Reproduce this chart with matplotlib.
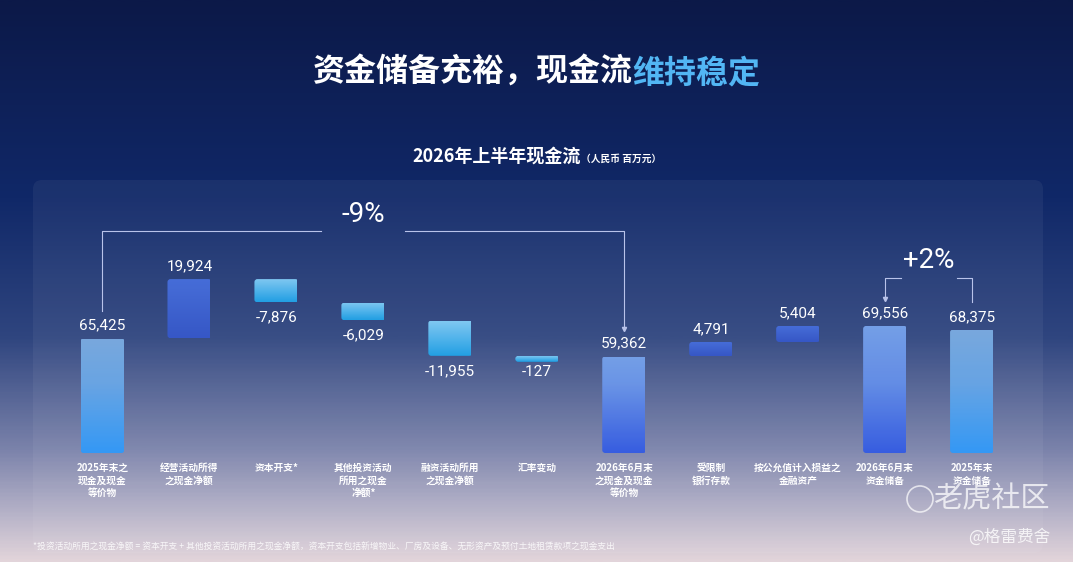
import numpy as np
import matplotlib
matplotlib.use("Agg")
import matplotlib.pyplot as plt
from matplotlib.colors import LinearSegmentedColormap
from matplotlib.patches import FancyBboxPatch, Circle
from matplotlib.transforms import IdentityTransform

plt.rcParams["font.family"] = ["Noto Sans CJK SC", "DejaVu Sans"]

# ---- data ----
categories = [
    "2025年末之\n现金及现金\n等价物",
    "经营活动所得\n之现金净额",
    "资本开支*",
    "其他投资活动\n所用之现金\n净额*",
    "融资活动所用\n之现金净额",
    "汇率变动",
    "2026年6月末\n之现金及现金\n等价物",
    "受限制\n银行存款",
    "按公允值计入损益之\n金融资产",
    "2026年6月末\n资金储备",
    "2025年末\n资金储备",
]
values = [65425, 19924, -7876, -6029, -11955, -127, 59362, 4791, 5404, 69556, 68375]
kinds = ["total", "delta", "delta", "delta", "delta", "delta",
         "total", "delta", "delta", "total", "total"]
# gradient colour (top, bottom) per bar
styles = ["light", "dark", "sky", "sky", "sky", "sky",
          "mid", "dark", "dark", "mid", "light"]
changes = [("-9%", 0, 6), ("+2%", 10, 9)]   # label, from bar, to bar (arrow)

title_white = "资金储备充裕，现金流"
title_blue = "维持稳定"
subtitle = "2026年上半年现金流"
unit = "（人民币 百万元）"
footnote = ("*投资活动所用之现金净额 = 资本开支 + 其他投资活动所用之现金净额，"
            "资本开支包括新增物业、厂房及设备、无形资产及预付土地租赁款项之现金支出")

COLORS = {
    "light": ("#72a4dc", "#2a93f5"),
    "dark": ("#3d66d6", "#2c4fc4"),
    "sky": ("#7cc6f2", "#189be2"),
    "mid": ("#6d9ae6", "#2d55df"),
}

W, H = 1073, 562
fig = plt.figure(figsize=(W / 100, H / 100), dpi=100)

# ---- background gradient ----
bg = fig.add_axes([0, 0, 1, 1], zorder=-10)
bg_cmap = LinearSegmentedColormap.from_list(
    "bg", [(0.0, "#0c1948"), (0.35, "#102868"), (0.6, "#2f457f"),
           (0.8, "#7a82aa"), (0.92, "#b8b4c9"), (1.0, "#e2d4da")])
grad = np.linspace(0, 1, 400).reshape(-1, 1)
bg.imshow(grad, cmap=bg_cmap, aspect="auto", extent=(0, 1, 1, 0))
bg.set_xlim(0, 1)
bg.set_ylim(1, 0)
bg.axis("off")

# panel
panel = FancyBboxPatch((33, H - 553), 1010, 373,
                       boxstyle="round,pad=0,rounding_size=9",
                       transform=IdentityTransform(), fc="white", alpha=0.05, lw=0)
fig.patches.append(panel)

# ---- main axes with a compressed lower range ----
BRK, K = 50000, 2.15


def fwd(v):
    v = np.asarray(v, float)
    return np.where(v < BRK, v, BRK + (v - BRK) * K)


def inv(t):
    t = np.asarray(t, float)
    return np.where(t < BRK, t, BRK + (t - BRK) / K)


YMAX = 112000
ax = fig.add_axes([59 / W, (H - 453) / H, 956.5 / W, 253 / H])
ax.set_yscale("function", functions=(fwd, inv))
ax.set_xlim(-0.5, len(values) - 0.5)
ax.set_ylim(0, YMAX)
ax.axis("off")

# waterfall extents
lows, highs = [], []
running = 0
for v, k in zip(values, kinds):
    if k == "total":
        lo, hi = 0, v
        running = v
    else:
        lo, hi = sorted([running, running + v])
        running += v
    lows.append(lo)
    highs.append(hi)

x = np.arange(len(values))
bars = ax.bar(x, np.array(highs) - np.array(lows), bottom=lows, width=0.505,
              color="none", lw=0)

MIN_PX = 6
for i, b in enumerate(bars):
    ext = b.get_window_extent()
    x0, y0, x1, y1 = ext.x0, ext.y0, ext.x1, ext.y1
    if y1 - y0 < MIN_PX:
        y0 = y1 - MIN_PX
    top_c, bot_c = COLORS[styles[i]]
    cm = LinearSegmentedColormap.from_list("b%d" % i, [bot_c, top_c])
    lo_d = ax.transData.inverted().transform((x0, y0))[1]
    im = ax.imshow(np.linspace(0, 1, 128).reshape(-1, 1), cmap=cm, aspect="auto",
                   origin="lower", extent=(i - 0.2525, i + 0.2525, lo_d, highs[i]),
                   zorder=2)
    clip = FancyBboxPatch((x0, y0), x1 - x0, y1 - y0,
                          boxstyle="round,pad=0,rounding_size=3",
                          transform=IdentityTransform(), fc="none", lw=0)
    im.set_clip_path(clip)

ax.set_xlim(-0.5, len(values) - 0.5)
ax.set_ylim(0, YMAX)

# value labels
for i, v in enumerate(values):
    if kinds[i] == "delta" and v < 0:
        ax.annotate(f"{v:,}", (i, lows[i]), xytext=(0, -6), textcoords="offset points",
                    ha="center", va="top", color="white", fontsize=11, family="Roboto")
    else:
        ax.annotate(f"{v:,}", (i, highs[i]), xytext=(0, 4), textcoords="offset points",
                    ha="center", va="bottom", color="white", fontsize=11, family="Roboto")

# category labels
for i, c in enumerate(categories):
    ax.annotate(c, (i, 0), xytext=(0, -7), textcoords="offset points", ha="center",
                va="top", color="white", fontsize=7, fontweight="bold", linespacing=1.35)

# change brackets (drawn in pixel space from the bar positions)
LC = "#b9c3ea"
gaps = {"-9%": 42, "+2%": 28}
for label, a, b in changes:
    xa = ax.transData.transform((a, highs[a]))
    xb = ax.transData.transform((b, highs[b]))
    top = max(ax.transData.transform((j, highs[j]))[1] for j in range(min(a, b), max(a, b) + 1))
    level = top + 48
    xm = (xa[0] + xb[0]) / 2
    g = gaps[label]
    left, right = sorted([xa, xb], key=lambda p: p[0])
    kw = dict(color=LC, lw=0.8, transform=IdentityTransform())
    fig.add_artist(plt.Line2D([left[0], left[0], xm - g], [left[1] + 27, level, level], **kw))
    fig.add_artist(plt.Line2D([xm + g, right[0], right[0]], [level, level, right[1] + 27], **kw))
    fig.add_artist(plt.Line2D([xb[0]], [xb[1] + 27], marker="v", ms=3, color=LC,
                              transform=IdentityTransform(), lw=0))
    fig.text(xm / W, (level + 17) / H, label, ha="center", va="center", color="white",
             fontsize=20, family="Roboto")

# ---- titles ----
renderer = fig.canvas.get_renderer()


def two_part(y, t1, t2, kw1, kw2, center=W / 2):
    a = fig.text(0, y, t1, va="baseline", ha="left", **kw1)
    b = fig.text(0, y, t2, va="baseline", ha="left", **kw2)
    w1 = a.get_window_extent(renderer).width
    w2 = b.get_window_extent(renderer).width
    x0 = center - (w1 + w2) / 2
    a.set_x(x0 / W)
    b.set_x((x0 + w1) / W)


two_part((H - 82) / H, title_white, title_blue,
         dict(color="white", fontsize=23, fontweight="bold"),
         dict(color="#52b6f4", fontsize=23, fontweight="bold"))
two_part((H - 162) / H, subtitle, unit,
         dict(color="white", fontsize=13, fontweight="bold"),
         dict(color="white", fontsize=7, fontweight="bold"), center=537)

fig.text(33 / W, (H - 546) / H, footnote, ha="left", va="center", color="white",
         alpha=0.85, fontsize=6.3)

# watermark
fig.text(1050 / W, (H - 499) / H, "老虎社区", ha="right", va="center", color="white",
         alpha=0.75, fontsize=21)
fig.text(1050 / W, (H - 537) / H, "@格雷费舍", ha="right", va="center", color="white",
         alpha=0.8, fontsize=12)
fig.patches.append(Circle((920, H - 499), 13, transform=IdentityTransform(),
                          fc="none", ec="white", lw=1.2, alpha=0.7))

fig.savefig("out.png", dpi=100)
